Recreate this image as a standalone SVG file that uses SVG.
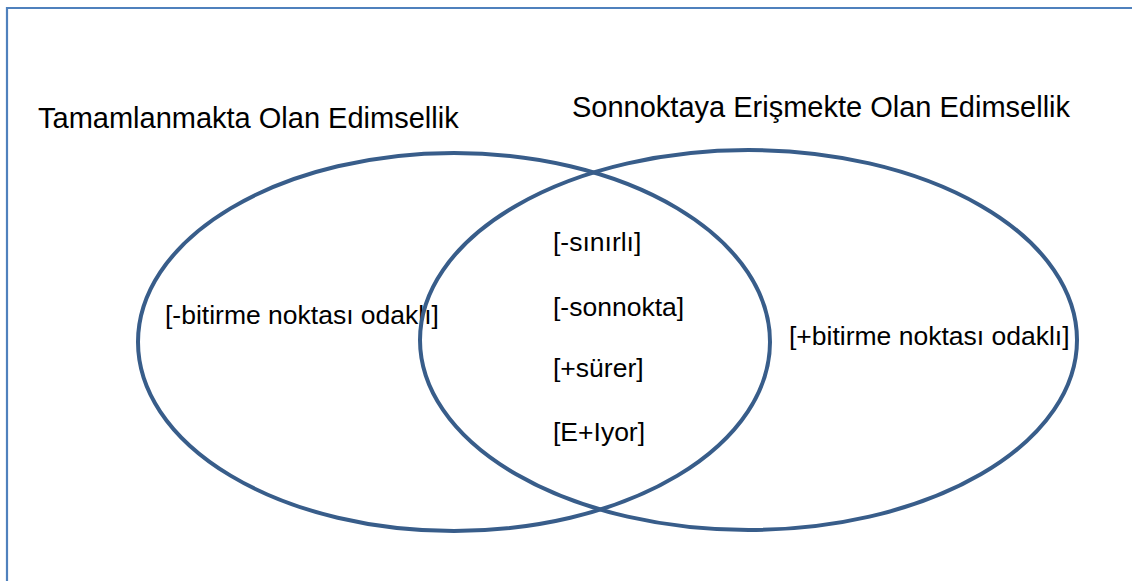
<svg xmlns="http://www.w3.org/2000/svg" width="1132" height="581" viewBox="0 0 1132 581">
<style>
.frame{fill:none;stroke:#4f81bd;stroke-width:2.2}
.ell{fill:none;stroke:#385d8a;stroke-width:4}
.t{font-family:"Liberation Sans",Arial,sans-serif;fill:#000}
.title{font-size:29px}
.lbl{font-size:26.5px}
</style>
<rect width="1132" height="581" fill="#fff"/>
<path class="frame" d="M7,581 V8 H1132"/>
<g id="set-left">
<ellipse class="ell" cx="454" cy="342" rx="316" ry="189"/>
<text class="t title" x="38" y="128">Tamamlanmakta Olan Edimsellik</text>
<text class="t lbl" x="165" y="324">[-bitirme noktası odaklı]</text>
</g>
<g id="set-right">
<ellipse class="ell" cx="748.5" cy="340" rx="328.5" ry="190"/>
<text class="t title" x="572" y="117">Sonnoktaya Erişmekte Olan Edimsellik</text>
<text class="t lbl" x="789" y="345">[+bitirme noktası odaklı]</text>
</g>
<g id="intersection">
<text class="t lbl" x="553" y="251">[-sınırlı]</text>
<text class="t lbl" x="553" y="316">[-sonnokta]</text>
<text class="t lbl" x="553" y="377">[+sürer]</text>
<text class="t lbl" x="553" y="441">[E+Iyor]</text>
</g>
<g id="connectors"></g>
</svg>
